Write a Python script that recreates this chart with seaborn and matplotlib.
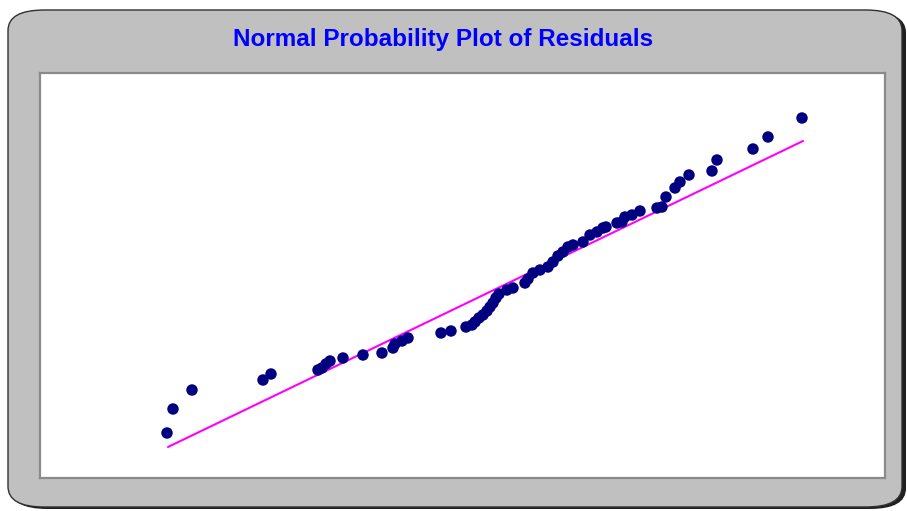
import matplotlib
matplotlib.use("Agg")
import matplotlib.pyplot as plt
from matplotlib.patches import FancyBboxPatch
import pandas as pd
import seaborn as sns

# residuals vs. normal scores (plot units)
residual = [127, 133, 152, 223, 231, 278, 282, 286, 290, 303, 323, 342, 353, 355, 362, 368,
            401, 411, 426, 432, 435, 439, 443, 447, 450, 453, 456, 459, 467, 473, 485, 488,
            493, 500, 508, 513, 518, 523, 528, 533, 543, 550, 557, 563, 566, 577, 582, 585,
            592, 600, 617, 622, 626, 635, 640, 649, 672, 677, 713, 728, 762]
normal_score = [45, 69, 88, 98, 104, 108, 110, 114, 117, 120, 123, 125, 130, 134, 137, 140,
                145, 147, 151, 153, 156, 160, 163, 167, 171, 175, 180, 184, 188, 190, 195, 199,
                205, 208, 211, 216, 222, 226, 231, 233, 236, 243, 246, 250, 251, 255, 256, 261,
                263, 267, 270, 271, 281, 290, 296, 303, 307, 318, 329, 341, 360]
fit_x = [128, 763]
fit_y = [31, 337]

df = pd.DataFrame({"residual": residual, "score": normal_score})
fit = pd.DataFrame({"x": fit_x, "y": fit_y})

sns.set_style("white")
plt.rcParams["font.family"] = ["Liberation Sans", "DejaVu Sans"]

fig = plt.figure(figsize=(9.07, 5.11), dpi=100)
fig.patch.set_facecolor("white")

# rounded grey panel with a small shadow behind the axes
W, H = 907, 511
shadow = FancyBboxPatch((11 / W, 2 / H), 895 / W, 497 / H,
                        boxstyle="round,pad=0,rounding_size=0.04",
                        transform=fig.transFigure, facecolor="#202020",
                        edgecolor="none", zorder=-2)
panel = FancyBboxPatch((8 / W, 4 / H), 894 / W, 497 / H,
                       boxstyle="round,pad=0,rounding_size=0.04",
                       transform=fig.transFigure, facecolor="#c0c0c0",
                       edgecolor="#303030", linewidth=1.0, zorder=-1)
fig.patches.extend([shadow, panel])

ax = fig.add_axes([40 / W, 1 - 478 / H, 845 / W, 405 / H])
ax.set_zorder(1)
ax.set_facecolor("white")

sns.lineplot(data=fit, x="x", y="y", color="#ff00ff", linewidth=1.5, ax=ax, zorder=2)
sns.scatterplot(data=df, x="residual", y="score", color="#000080", s=68,
                edgecolor="none", ax=ax, zorder=3)

ax.set_xlim(0, 845)
ax.set_ylim(0, 405)
ax.set_xticks([])
ax.set_yticks([])
ax.set_xlabel("")
ax.set_ylabel("")
for side in ax.spines.values():
    side.set_color("#8a8a8a")
    side.set_linewidth(1.6)

fig.text(443 / W, 1 - 39 / H, "Normal Probability Plot of Residuals",
         color="#0000ff", fontsize=17.5, fontweight="bold", ha="center", va="center")

fig.savefig("out.png", dpi=100)
